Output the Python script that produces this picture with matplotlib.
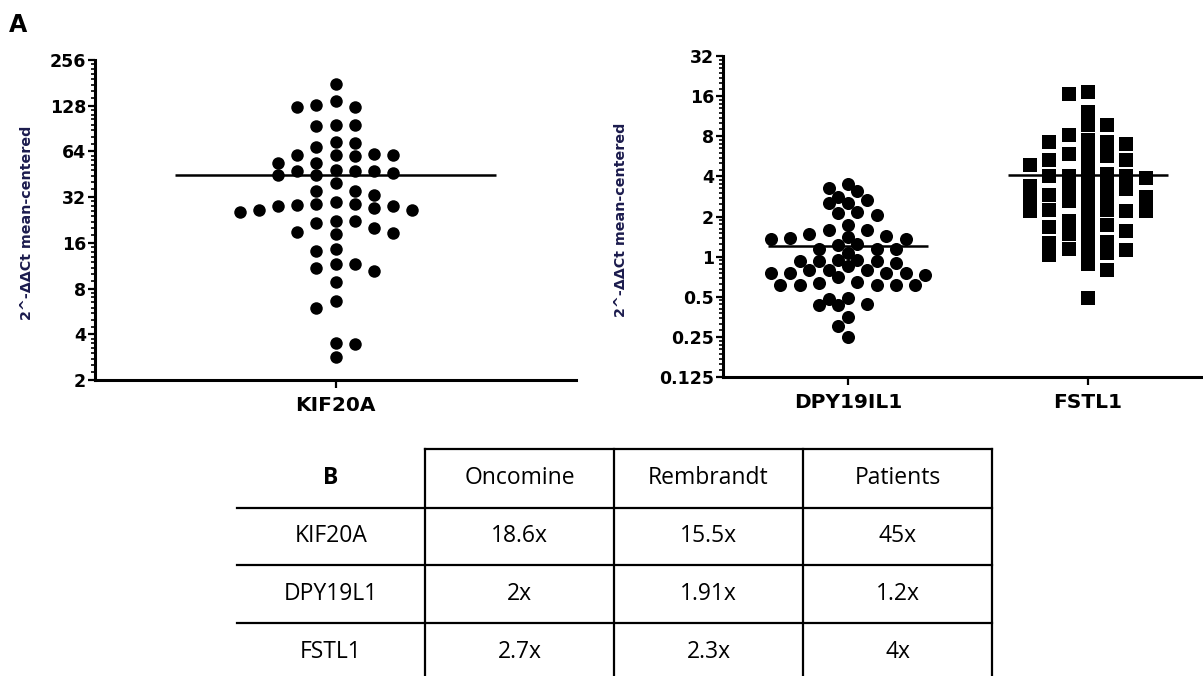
import numpy as np
import matplotlib
matplotlib.use("Agg")
import matplotlib.pyplot as plt
from matplotlib.ticker import FixedLocator, FixedFormatter, NullFormatter

# ==========================================================
# Style
# ==========================================================
plt.rcParams.update({
    "font.family": "DejaVu Sans",
    "font.weight": "bold",
    "axes.linewidth": 2.2,
    "figure.dpi": 100,
})

# ==========================================================
# Data
# ==========================================================
kif20a = [177, 138, 126, 126, 130, 96, 94, 96, 74, 68, 73, 60.5, 60.5, 54, 54,
          60, 60.5, 62, 47.5, 47.5, 48, 44.6, 44.6, 46, 47.5, 39.4, 35.3, 35.3,
          33, 29.7, 28.5, 28, 25.5, 27, 26.4, 28, 28.7, 29, 26.5, 22.3, 21.7,
          18.3, 22.3, 18.8, 20, 18.5, 14.5, 14.2, 11.6, 11, 10.4, 11.6, 8.9,
          6.6, 6.0, 3.53, 3.46, 2.83]

dpy19il1 = [3.5, 3.12, 3.3, 2.66, 2.52, 2.52, 2.81, 2.13, 2.07, 2.17,
            1.73, 1.58, 1.58, 1.49, 1.41, 1.42, 1.38, 1.35, 1.35,
            1.22, 1.25, 1.15, 1.15, 1.15, 1.06,
            0.95, 0.93, 0.92, 0.90, 0.85, 0.92, 0.95,
            0.80, 0.80, 0.75, 0.75, 0.75, 0.75, 0.73, 0.80, 0.70,
            0.65, 0.61, 0.61, 0.61, 0.61, 0.61, 0.63,
            0.49, 0.44, 0.43, 0.43, 0.48,
            0.35, 0.30, 0.25]

fstl1 = [17.3, 16.5, 12.1, 9.7, 9.7, 8.2, 7.5, 5.9, 7.2, 7.0, 7.2, 6.2, 4.9,
         5.3, 5.3, 5.7, 4.96, 4.2, 2.8, 2.24, 2.8, 2.24,
         3.9, 3.2, 4.0, 3.3, 2.6, 2.2, 4.0, 3.4, 2.9, 2.2, 4.0, 3.2, 2.6, 2.2,
         4.1, 3.4, 2.8,
         1.85, 1.49, 1.68, 1.68, 1.73, 2.07, 1.33, 1.09, 1.56, 1.29, 1.26,
         1.03, 1.12, 1.06, 1.15, 0.88, 0.80, 0.49]

left_ticks = [2, 4, 8, 16, 32, 64, 128, 256]
left_labels = ["2", "4", "8", "16", "32", "64", "128", "256"]
right_ticks = [0.125, 0.25, 0.5, 1, 2, 4, 8, 16, 32]
right_labels = ["0.125", "0.25", "0.5", "1", "2", "4", "8", "16", "32"]

table_header = "B"
table_cols = ["Oncomine", "Rembrandt", "Patients"]
table_rows = ["KIF20A", "DPY19L1", "FSTL1"]
oncomine = ["18.6x", "2x", "2.7x"]
rembrandt = ["15.5x", "1.91x", "2.3x"]
patients = ["45x", "1.2x", "4x"]

ylab = "2^-\u0394\u0394Ct mean-centered"
ylab_color = "#1b1b4d"


# ==========================================================
# Helpers
# ==========================================================
def minor_list(lo, hi):
    out = []
    v = lo
    while v < hi:
        out += [v * (1 + k / 8) for k in range(1, 8)]
        v *= 2
    return out


def swarm(ax, x0, values, step, gap, square=False, half=True):
    # Prism-like scatter: greedy placement on a column grid (pixels)
    vals = np.asarray(values, float)
    y = ax.transData.transform(np.column_stack([np.full(len(vals), x0), vals]))[:, 1]
    p0 = ax.transData.transform([[0, 1]])[0, 0]
    p1 = ax.transData.transform([[1, 1]])[0, 0]
    ppu = p1 - p0
    unit = step / 2 if half else step
    xs = np.zeros(len(vals))
    placed = []
    side = -1
    for i in np.argsort(-vals, kind="stable"):
        cand = [0.0]
        for k in range(1, 40):
            cand += [side * k * unit, -side * k * unit]
        for c in cand:
            ok = True
            for (px, py) in placed:
                dx, dy = abs(c - px), abs(y[i] - py)
                d = max(dx, dy) if square else np.hypot(dx, dy)
                if d < gap:
                    ok = False
                    break
            if ok:
                break
        if c != 0:
            side = -side
        xs[i] = c
        placed.append((c, y[i]))
    return x0 + xs / ppu


def style_axis(ax, ticks, labels, lo, hi):
    ax.set_yscale("log", base=2)
    ax.set_ylim(lo, hi)
    ax.yaxis.set_major_locator(FixedLocator(ticks))
    ax.yaxis.set_major_formatter(FixedFormatter(labels))
    ax.yaxis.set_minor_locator(FixedLocator(minor_list(lo, hi)))
    ax.yaxis.set_minor_formatter(NullFormatter())
    ax.spines["top"].set_visible(False)
    ax.spines["right"].set_visible(False)
    ax.tick_params(axis="y", which="major", length=5, width=1.6, pad=1.5,
                   labelsize=12.5)
    ax.tick_params(axis="y", which="minor", length=2.6, width=1.2)
    ax.tick_params(axis="x", which="major", length=5.5, width=1.6, pad=6,
                   labelsize=14.5)
    for lab in ax.get_yticklabels() + ax.get_xticklabels():
        lab.set_fontweight("bold")


W, H = 1203, 676
fig = plt.figure(figsize=(W / 100, H / 100), dpi=100)

# ==========================================================
# Left panel: KIF20A
# ==========================================================
axL = fig.add_axes([95 / W, 1 - 380 / H, 481 / W, 320 / H])
axL.set_xlim(-0.5, 0.5)
style_axis(axL, left_ticks, left_labels, 2, 256)
axL.set_xticks([0])
axL.set_xticklabels(["KIF20A"])
axL.set_ylabel(ylab, fontsize=10.3, fontweight="bold", color=ylab_color)
axL.yaxis.set_label_coords(-0.127, 0.49)

xk = swarm(axL, 0, kif20a, 19.2, 12.5, half=False)
axL.plot(xk, kif20a, "o", color="black", ms=9.0, mew=0, clip_on=False)
axL.hlines(np.mean(kif20a), -1 / 3, 1 / 3, color="black", lw=1.8)

# ==========================================================
# Right panel: DPY19IL1, FSTL1
# ==========================================================
axR = fig.add_axes([723 / W, 1 - 377 / H, 480 / W, 321 / H])
axR.set_xlim(-0.52, 1.48)
style_axis(axR, right_ticks, right_labels, 0.125, 32)
axR.set_xticks([0, 1])
axR.set_xticklabels(["DPY19IL1", "FSTL1"])
axR.set_ylabel(ylab, fontsize=10.3, fontweight="bold", color=ylab_color)
axR.yaxis.set_label_coords(-0.198, 0.49)

xd = swarm(axR, 0, dpy19il1, 19.3, 11.5)
axR.plot(xd, dpy19il1, "o", color="black", ms=9.4, mew=0, clip_on=False)
axR.hlines(np.mean(dpy19il1), -1 / 3, 1 / 3, color="black", lw=1.8)

xf = swarm(axR, 1, fstl1, 19.3, 11.0, square=True, half=False)
axR.plot(xf, fstl1, "s", color="black", ms=10.0, mew=0, clip_on=False)
axR.hlines(np.mean(fstl1), 1 - 1 / 3, 1 + 1 / 3, color="black", lw=1.8)

# ==========================================================
# Panel letter and table (pixel coordinates)
# ==========================================================
tab = fig.add_axes([0, 0, 1, 1])
tab.set_xlim(0, W)
tab.set_ylim(H, 0)
tab.axis("off")
tab.patch.set_alpha(0)

tab.text(9, 25, "A", fontsize=17, fontweight="bold", va="center", ha="left")

col_x = [237, 425, 614, 803, 992]
row_y = [449, 508, 565, 623, H]
lw_tab = 1.6

tab.plot([col_x[1], col_x[-1]], [row_y[0], row_y[0]], color="black", lw=lw_tab)
for yy in row_y[1:-1]:
    tab.plot([col_x[0], col_x[-1]], [yy, yy], color="black", lw=lw_tab)
for xx in col_x[1:]:
    tab.plot([xx, xx], [row_y[0], row_y[-1]], color="black", lw=lw_tab)

cx = [(col_x[i] + col_x[i + 1]) / 2 for i in range(4)]
cy = [(row_y[i] + row_y[i + 1]) / 2 for i in range(3)] + [652]

tfont = dict(family="Open Sans", fontsize=16.5, fontweight="normal",
             ha="center", va="center")
tab.text(cx[0], cy[0], table_header, **{**tfont, "fontweight": "bold"})
for j, name in enumerate(table_cols):
    tab.text(cx[j + 1], cy[0], name, **tfont)
for i, name in enumerate(table_rows):
    tab.text(cx[0], cy[i + 1], name, **tfont)
    tab.text(cx[1], cy[i + 1], oncomine[i], **tfont)
    tab.text(cx[2], cy[i + 1], rembrandt[i], **tfont)
    tab.text(cx[3], cy[i + 1], patients[i], **tfont)

fig.savefig("out.png", dpi=100)
